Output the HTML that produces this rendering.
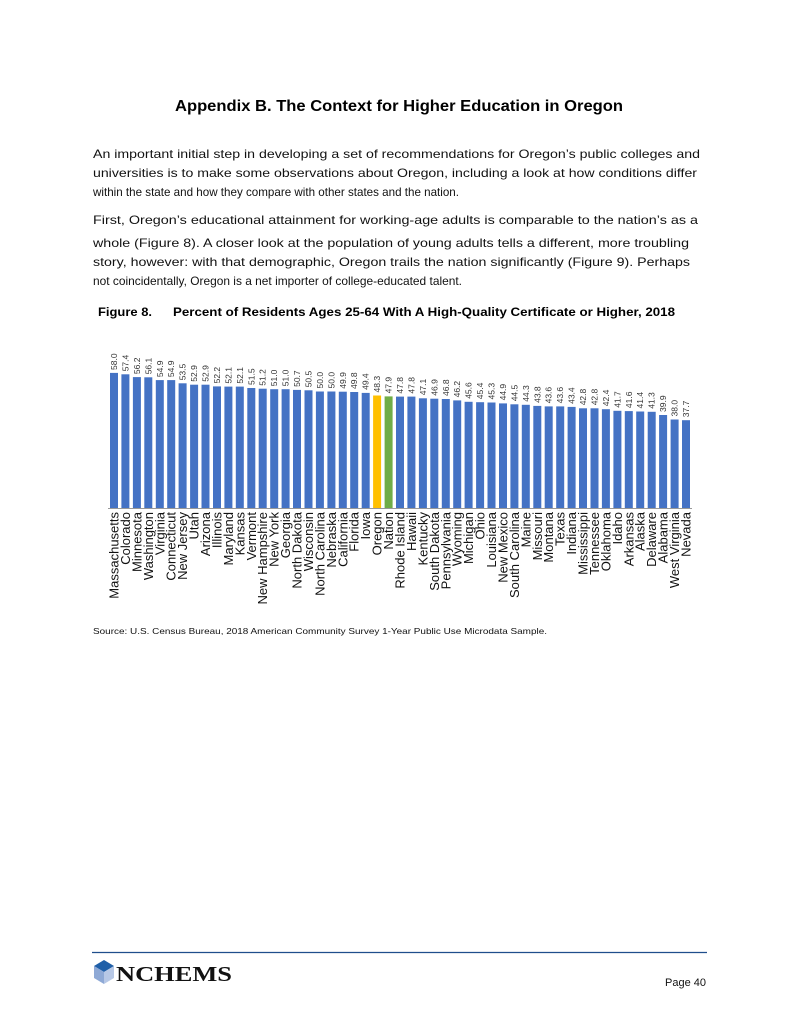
<!DOCTYPE html>
<html><head><meta charset="utf-8"><style>
html,body{margin:0;padding:0;background:#fff;}
svg{display:block;font-family:"Liberation Sans",sans-serif;}
</style></head><body>
<svg width="800" height="1035" viewBox="0 0 800 1035" xmlns="http://www.w3.org/2000/svg">
<text x="399" y="111" text-anchor="middle" font-size="15.5" font-weight="bold" fill="#000" textLength="448" lengthAdjust="spacingAndGlyphs">Appendix B. The Context for Higher Education in Oregon</text>
<g font-size="11.6" fill="#111">
<text x="93" y="158" textLength="607" lengthAdjust="spacingAndGlyphs">An important initial step in developing a set of recommendations for Oregon’s public colleges and</text>
<text x="93" y="177" textLength="604" lengthAdjust="spacingAndGlyphs">universities is to make some observations about Oregon, including a look at how conditions differ</text>
<text x="93" y="196" textLength="366" lengthAdjust="spacingAndGlyphs">within the state and how they compare with other states and the nation.</text>
<text x="93" y="224" textLength="605" lengthAdjust="spacingAndGlyphs">First, Oregon’s educational attainment for working-age adults is comparable to the nation’s as a</text>
<text x="93" y="247" textLength="596" lengthAdjust="spacingAndGlyphs">whole (Figure 8). A closer look at the population of young adults tells a different, more troubling</text>
<text x="93" y="266" textLength="597" lengthAdjust="spacingAndGlyphs">story, however: with that demographic, Oregon trails the nation significantly (Figure 9). Perhaps</text>
<text x="93" y="285" textLength="369" lengthAdjust="spacingAndGlyphs">not coincidentally, Oregon is a net importer of college-educated talent.</text>
</g>
<g font-size="12" font-weight="bold" fill="#000">
<text x="98" y="316" textLength="54" lengthAdjust="spacingAndGlyphs">Figure 8.</text>
<text x="173" y="316" textLength="502" lengthAdjust="spacingAndGlyphs">Percent of Residents Ages 25-64 With A High-Quality Certificate or Higher, 2018</text>
</g>
<g fill="#4472C4">
<rect x="110.0" y="372.9" width="8" height="135.1"/>
<rect x="121.4" y="374.3" width="8" height="133.7"/>
<rect x="132.9" y="377.1" width="8" height="130.9"/>
<rect x="144.3" y="377.3" width="8" height="130.7"/>
<rect x="155.8" y="380.1" width="8" height="127.9"/>
<rect x="167.2" y="380.1" width="8" height="127.9"/>
<rect x="178.6" y="383.3" width="8" height="124.7"/>
<rect x="190.1" y="384.7" width="8" height="123.3"/>
<rect x="201.5" y="384.7" width="8" height="123.3"/>
<rect x="213.0" y="386.4" width="8" height="121.6"/>
<rect x="224.4" y="386.6" width="8" height="121.4"/>
<rect x="235.8" y="386.6" width="8" height="121.4"/>
<rect x="247.3" y="388.0" width="8" height="120.0"/>
<rect x="258.7" y="388.7" width="8" height="119.3"/>
<rect x="270.2" y="389.2" width="8" height="118.8"/>
<rect x="281.6" y="389.2" width="8" height="118.8"/>
<rect x="293.0" y="389.9" width="8" height="118.1"/>
<rect x="304.5" y="390.3" width="8" height="117.7"/>
<rect x="315.9" y="391.5" width="8" height="116.5"/>
<rect x="327.4" y="391.5" width="8" height="116.5"/>
<rect x="338.8" y="391.7" width="8" height="116.3"/>
<rect x="350.2" y="392.0" width="8" height="116.0"/>
<rect x="361.7" y="392.9" width="8" height="115.1"/>
<rect x="373.1" y="395.5" width="8" height="112.5" fill="#FFC000"/>
<rect x="384.6" y="396.4" width="8" height="111.6" fill="#70AD47"/>
<rect x="396.0" y="396.6" width="8" height="111.4"/>
<rect x="407.4" y="396.6" width="8" height="111.4"/>
<rect x="418.9" y="398.3" width="8" height="109.7"/>
<rect x="430.3" y="398.7" width="8" height="109.3"/>
<rect x="441.8" y="399.0" width="8" height="109.0"/>
<rect x="453.2" y="400.4" width="8" height="107.6"/>
<rect x="464.6" y="401.8" width="8" height="106.2"/>
<rect x="476.1" y="402.2" width="8" height="105.8"/>
<rect x="487.5" y="402.5" width="8" height="105.5"/>
<rect x="499.0" y="403.4" width="8" height="104.6"/>
<rect x="510.4" y="404.3" width="8" height="103.7"/>
<rect x="521.8" y="404.8" width="8" height="103.2"/>
<rect x="533.3" y="405.9" width="8" height="102.1"/>
<rect x="544.7" y="406.4" width="8" height="101.6"/>
<rect x="556.2" y="406.4" width="8" height="101.6"/>
<rect x="567.6" y="406.9" width="8" height="101.1"/>
<rect x="579.0" y="408.3" width="8" height="99.7"/>
<rect x="590.5" y="408.3" width="8" height="99.7"/>
<rect x="601.9" y="409.2" width="8" height="98.8"/>
<rect x="613.4" y="410.8" width="8" height="97.2"/>
<rect x="624.8" y="411.1" width="8" height="96.9"/>
<rect x="636.2" y="411.5" width="8" height="96.5"/>
<rect x="647.7" y="411.8" width="8" height="96.2"/>
<rect x="659.1" y="415.0" width="8" height="93.0"/>
<rect x="670.6" y="419.5" width="8" height="88.5"/>
<rect x="682.0" y="420.2" width="8" height="87.8"/>
</g>
<line x1="108" y1="508.5" x2="692" y2="508.5" stroke="#999" stroke-width="1"/>
<g font-size="8.5" fill="#333">
<text transform="translate(117,370) rotate(-90)">58.0</text>
<text transform="translate(128.4,371.3) rotate(-90)">57.4</text>
<text transform="translate(139.9,374.1) rotate(-90)">56.2</text>
<text transform="translate(151.3,374.3) rotate(-90)">56.1</text>
<text transform="translate(162.8,377.1) rotate(-90)">54.9</text>
<text transform="translate(174.2,377.1) rotate(-90)">54.9</text>
<text transform="translate(185.6,380.3) rotate(-90)">53.5</text>
<text transform="translate(197.1,381.7) rotate(-90)">52.9</text>
<text transform="translate(208.5,381.7) rotate(-90)">52.9</text>
<text transform="translate(220,383.4) rotate(-90)">52.2</text>
<text transform="translate(231.4,383.6) rotate(-90)">52.1</text>
<text transform="translate(242.8,383.6) rotate(-90)">52.1</text>
<text transform="translate(254.3,385) rotate(-90)">51.5</text>
<text transform="translate(265.7,385.7) rotate(-90)">51.2</text>
<text transform="translate(277.2,386.2) rotate(-90)">51.0</text>
<text transform="translate(288.6,386.2) rotate(-90)">51.0</text>
<text transform="translate(300,386.9) rotate(-90)">50.7</text>
<text transform="translate(311.5,387.3) rotate(-90)">50.5</text>
<text transform="translate(322.9,388.5) rotate(-90)">50.0</text>
<text transform="translate(334.4,388.5) rotate(-90)">50.0</text>
<text transform="translate(345.8,388.7) rotate(-90)">49.9</text>
<text transform="translate(357.2,389) rotate(-90)">49.8</text>
<text transform="translate(368.7,389.9) rotate(-90)">49.4</text>
<text transform="translate(380.1,392.5) rotate(-90)">48.3</text>
<text transform="translate(391.6,393.4) rotate(-90)">47.9</text>
<text transform="translate(403,393.6) rotate(-90)">47.8</text>
<text transform="translate(414.4,393.6) rotate(-90)">47.8</text>
<text transform="translate(425.9,395.3) rotate(-90)">47.1</text>
<text transform="translate(437.3,395.7) rotate(-90)">46.9</text>
<text transform="translate(448.8,396) rotate(-90)">46.8</text>
<text transform="translate(460.2,397.4) rotate(-90)">46.2</text>
<text transform="translate(471.6,398.8) rotate(-90)">45.6</text>
<text transform="translate(483.1,399.2) rotate(-90)">45.4</text>
<text transform="translate(494.5,399.5) rotate(-90)">45.3</text>
<text transform="translate(506,400.4) rotate(-90)">44.9</text>
<text transform="translate(517.4,401.3) rotate(-90)">44.5</text>
<text transform="translate(528.8,401.8) rotate(-90)">44.3</text>
<text transform="translate(540.3,402.9) rotate(-90)">43.8</text>
<text transform="translate(551.7,403.4) rotate(-90)">43.6</text>
<text transform="translate(563.2,403.4) rotate(-90)">43.6</text>
<text transform="translate(574.6,403.9) rotate(-90)">43.4</text>
<text transform="translate(586,405.3) rotate(-90)">42.8</text>
<text transform="translate(597.5,405.3) rotate(-90)">42.8</text>
<text transform="translate(608.9,406.2) rotate(-90)">42.4</text>
<text transform="translate(620.4,407.8) rotate(-90)">41.7</text>
<text transform="translate(631.8,408.1) rotate(-90)">41.6</text>
<text transform="translate(643.2,408.5) rotate(-90)">41.4</text>
<text transform="translate(654.7,408.8) rotate(-90)">41.3</text>
<text transform="translate(666.1,412) rotate(-90)">39.9</text>
<text transform="translate(677.6,416.5) rotate(-90)">38.0</text>
<text transform="translate(689,417.2) rotate(-90)">37.7</text>
</g>
<g font-size="13" fill="#111" text-anchor="end">
<text transform="translate(118.5,512) rotate(-90)">Massachusetts</text>
<text transform="translate(129.9,512) rotate(-90)">Colorado</text>
<text transform="translate(141.4,512) rotate(-90)">Minnesota</text>
<text transform="translate(152.8,512) rotate(-90)">Washington</text>
<text transform="translate(164.3,512) rotate(-90)">Virginia</text>
<text transform="translate(175.7,512) rotate(-90)">Connecticut</text>
<text transform="translate(187.1,512) rotate(-90)">New Jersey</text>
<text transform="translate(198.6,512) rotate(-90)">Utah</text>
<text transform="translate(210,512) rotate(-90)">Arizona</text>
<text transform="translate(221.5,512) rotate(-90)">Illinois</text>
<text transform="translate(232.9,512) rotate(-90)">Maryland</text>
<text transform="translate(244.3,512) rotate(-90)">Kansas</text>
<text transform="translate(255.8,512) rotate(-90)">Vermont</text>
<text transform="translate(267.2,512) rotate(-90)">New Hampshire</text>
<text transform="translate(278.7,512) rotate(-90)">New York</text>
<text transform="translate(290.1,512) rotate(-90)">Georgia</text>
<text transform="translate(301.5,512) rotate(-90)">North Dakota</text>
<text transform="translate(313,512) rotate(-90)">Wisconsin</text>
<text transform="translate(324.4,512) rotate(-90)">North Carolina</text>
<text transform="translate(335.9,512) rotate(-90)">Nebraska</text>
<text transform="translate(347.3,512) rotate(-90)">California</text>
<text transform="translate(358.7,512) rotate(-90)">Florida</text>
<text transform="translate(370.2,512) rotate(-90)">Iowa</text>
<text transform="translate(381.6,512) rotate(-90)">Oregon</text>
<text transform="translate(393.1,512) rotate(-90)">Nation</text>
<text transform="translate(404.5,512) rotate(-90)">Rhode Island</text>
<text transform="translate(415.9,512) rotate(-90)">Hawaii</text>
<text transform="translate(427.4,512) rotate(-90)">Kentucky</text>
<text transform="translate(438.8,512) rotate(-90)">South Dakota</text>
<text transform="translate(450.3,512) rotate(-90)">Pennsylvania</text>
<text transform="translate(461.7,512) rotate(-90)">Wyoming</text>
<text transform="translate(473.1,512) rotate(-90)">Michigan</text>
<text transform="translate(484.6,512) rotate(-90)">Ohio</text>
<text transform="translate(496,512) rotate(-90)">Louisiana</text>
<text transform="translate(507.5,512) rotate(-90)">New Mexico</text>
<text transform="translate(518.9,512) rotate(-90)">South Carolina</text>
<text transform="translate(530.3,512) rotate(-90)">Maine</text>
<text transform="translate(541.8,512) rotate(-90)">Missouri</text>
<text transform="translate(553.2,512) rotate(-90)">Montana</text>
<text transform="translate(564.7,512) rotate(-90)">Texas</text>
<text transform="translate(576.1,512) rotate(-90)">Indiana</text>
<text transform="translate(587.5,512) rotate(-90)">Mississippi</text>
<text transform="translate(599,512) rotate(-90)">Tennessee</text>
<text transform="translate(610.4,512) rotate(-90)">Oklahoma</text>
<text transform="translate(621.9,512) rotate(-90)">Idaho</text>
<text transform="translate(633.3,512) rotate(-90)">Arkansas</text>
<text transform="translate(644.7,512) rotate(-90)">Alaska</text>
<text transform="translate(656.2,512) rotate(-90)">Delaware</text>
<text transform="translate(667.6,512) rotate(-90)">Alabama</text>
<text transform="translate(679.1,512) rotate(-90)">West Virginia</text>
<text transform="translate(690.5,512) rotate(-90)">Nevada</text>
</g>
<text x="93" y="634" font-size="8.5" fill="#111" textLength="454" lengthAdjust="spacingAndGlyphs">Source: U.S. Census Bureau, 2018 American Community Survey 1-Year Public Use Microdata Sample.</text>
<line x1="92" y1="952.5" x2="707" y2="952.5" stroke="#1F4E8C" stroke-width="1.2"/>
<g>
<polygon points="104,960 114,966 104,972 94,966" fill="#1F5FA8"/>
<polygon points="94,966 104,972 104,984 94,978" fill="#8EA9D6"/>
<polygon points="104,972 114,966 114,978 104,984" fill="#B7C8E6"/>
</g>
<text x="116" y="981" font-family="Liberation Serif,serif" font-size="21" font-weight="bold" fill="#111" textLength="116" lengthAdjust="spacingAndGlyphs">NCHEMS</text>
<text x="706" y="986" text-anchor="end" font-size="11" fill="#111">Page 40</text>
</svg>
</body></html>
